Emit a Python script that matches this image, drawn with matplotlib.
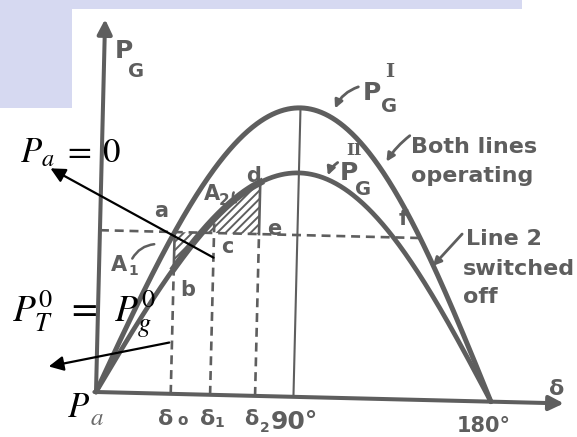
import numpy as np
import matplotlib
matplotlib.use("Agg")
import matplotlib.pyplot as plt
from matplotlib.transforms import Affine2D
from matplotlib.patches import Polygon, FancyArrowPatch

# ---- power-angle data (per unit of the both-lines peak) ----
p_max_both = 1.0        # P_G^I : both lines operating
p_max_one = 0.775       # P_G^II : line 2 switched off
p_mech = 0.56           # mechanical input P_T^0 = P_g^0
delta_1 = 52.0          # degrees
delta_2 = 72.5          # degrees
tick_labels = ["δ", "δ", "δ", "90°", "180°"]

GRAY = "#5e5e5e"
LAV = "#d6d9f1"
W, H = 577, 437
ORIGIN = (96, 392)          # pixel position of the origin
KX = 395 / 180              # pixels per degree
KY = 289                    # pixels per unit power

plt.rcParams["mathtext.fontset"] = "stix"
plt.rcParams["hatch.linewidth"] = 1.4
plt.rcParams["hatch.color"] = GRAY

fig = plt.figure(figsize=(W / 100, H / 100), dpi=100)
ax = fig.add_axes([0, 0, 1, 1])
ax.set_xlim(-ORIGIN[0] / KX, (W - ORIGIN[0]) / KX)
ax.set_ylim((ORIGIN[1] - H) / KY, ORIGIN[1] / KY)
ax.axis("off")


def at(x, y):
    """Pixel position (from top-left) -> data coordinates."""
    return ((x - ORIGIN[0]) / KX, (ORIGIN[1] - y) / KY)


# the drawing sits slightly askew on the page
tilt = ax.transData + Affine2D().rotate_deg_around(ORIGIN[0], H - ORIGIN[1], -1.4)

# ---- page background ----
bg = Polygon([at(0, 0), at(522, 0), at(522, 9), at(72, 9), at(72, 108), at(0, 108)],
             closed=True, facecolor=LAV, edgecolor="none", zorder=0)
ax.add_patch(bg)

# ---- curves ----
delta = np.linspace(0, 180, 721)
p1 = p_max_both * np.sin(np.radians(delta))
p2 = p_max_one * np.sin(np.radians(delta))
ax.plot(delta, p1, color=GRAY, lw=3.6, transform=tilt, solid_capstyle="round", zorder=3)
ax.plot(delta, p2, color=GRAY, lw=3.4, transform=tilt, solid_capstyle="round", zorder=3)

delta_0 = np.degrees(np.arcsin(p_mech / p_max_both))
delta_c = np.degrees(np.arcsin(p_mech / p_max_one))
delta_f = 180 - delta_0

seg = (delta >= delta_0) & (delta <= delta_2)
ax.plot(delta[seg], p2[seg], color=GRAY, lw=5.0, transform=tilt, zorder=3)

# accelerating / decelerating areas
m1 = (delta >= delta_0) & (delta <= delta_c)
ax.fill_between(delta[m1], p2[m1], p_mech, facecolor="none", edgecolor=GRAY,
                hatch="////", linewidth=0, transform=tilt, zorder=2)
m2 = (delta >= delta_c) & (delta <= delta_2)
ax.fill_between(delta[m2], p_mech, p2[m2], facecolor="none", edgecolor=GRAY,
                hatch="////", linewidth=0, transform=tilt, zorder=2)

# ---- axes with arrows ----
ax.add_patch(FancyArrowPatch((-2, 0), (214.5, 0), transform=tilt, arrowstyle="-|>",
                             mutation_scale=22, lw=2.9, color=GRAY, zorder=4))
ax.add_patch(FancyArrowPatch((0, -0.01), (0, 1.30), transform=tilt, arrowstyle="-|>",
                             mutation_scale=22, lw=2.9, color=GRAY, zorder=4))

# ---- construction lines ----
dash = (0, (3.4, 2.2))
pb = p_max_one * np.sin(np.radians(delta_0))
pc = p_max_one * np.sin(np.radians(delta_1))
pd = p_max_one * np.sin(np.radians(delta_2))
ax.plot([0, delta_f], [p_mech, p_mech], color=GRAY, lw=1.9, ls=dash, transform=tilt, zorder=2)
ax.plot([delta_0, delta_0], [0, pb], color=GRAY, lw=1.9, ls=dash, transform=tilt, zorder=2)
ax.plot([delta_0, delta_0], [pb, p_mech], color=GRAY, lw=1.9, transform=tilt, zorder=2)
ax.plot([delta_1, delta_1], [0, pc], color=GRAY, lw=1.9, ls=dash, transform=tilt, zorder=2)
ax.plot([delta_2, delta_2], [0, p_mech], color=GRAY, lw=1.9, ls=dash, transform=tilt, zorder=2)
ax.plot([delta_2, delta_2], [p_mech, pd], color=GRAY, lw=1.9, transform=tilt, zorder=2)
ax.plot([90, 90], [0, p_max_both], color=GRAY, lw=1.5, transform=tilt, zorder=2)

# ---- hand lettering ----
hand = dict(color=GRAY, family="DejaVu Sans", fontweight="bold", va="baseline", ha="left", zorder=5)


def put(x, y, s, size, **kw):
    d = dict(hand)
    d.update(kw)
    ax.text(*at(x, y), s, fontsize=size, **d)


put(115, 58, "P", 18)
put(128, 77, "G", 14)
put(385, 77, "I", 14, family="DejaVu Serif")
put(363, 100, "P", 18)
put(381, 112, "G", 14)
put(346, 155, "II", 12, family="DejaVu Serif")
put(340, 180, "P", 18)
put(355, 195, "G", 14)
put(411, 153, "Both lines", 16)
put(411, 182, "operating", 16)
put(466, 245, "Line 2", 16)
put(463, 275, "switched", 16)
put(463, 303, "off", 16)
put(154, 217, "a", 15)
put(180, 296, "b", 15)
put(221, 253, "c", 15)
put(246, 182, "d", 15)
put(267, 235, "e", 15)
put(399, 225, "f", 15)
put(111, 271, "A", 15)
put(128, 275, "1", 10)
put(204, 200, "A", 15)
put(219, 205, "2", 11)

# axis labels
put(158, 425, tick_labels[0], 16)
put(177, 425, "o", 11)
put(200, 425, tick_labels[1], 16)
put(214, 427, "1", 10)
put(244, 425, tick_labels[2], 15)
put(260, 432, "2", 10)
put(271, 429, tick_labels[3], 18)
put(457, 432, tick_labels[4], 15)
put(549, 395, "δ", 16)

# leaders
arrow_kw = dict(arrowstyle="-|>", color=GRAY, lw=2.0, mutation_scale=12)
ax.annotate("", xy=at(334, 111), xytext=at(361, 86),
            arrowprops=dict(connectionstyle="arc3,rad=0.25", **arrow_kw))
ax.annotate("", xy=at(327, 178), xytext=at(340, 161),
            arrowprops=dict(connectionstyle="arc3,rad=0.2", **arrow_kw))
ax.annotate("", xy=at(385, 164), xytext=at(412, 134),
            arrowprops=dict(connectionstyle="arc3,rad=0.1", **arrow_kw))
ax.annotate("", xy=at(431, 268), xytext=at(464, 232),
            arrowprops=dict(connectionstyle="arc3,rad=0.0", **arrow_kw))
ax.annotate("", xy=at(157, 244), xytext=at(131, 261),
            arrowprops=dict(arrowstyle="-", color=GRAY, lw=1.8, connectionstyle="arc3,rad=-0.3"))
ax.annotate("", xy=at(238, 204), xytext=at(235, 190),
            arrowprops=dict(arrowstyle="-", color=GRAY, lw=1.8, connectionstyle="arc3,rad=0.5"))

# ---- printed annotations ----
ink = dict(color="black", va="baseline", ha="left", zorder=6)
ax.text(*at(20, 162), r"$P_a\;=\;0$", fontsize=25, **ink)
ax.text(*at(12, 323), r"$P_T^0\;\,=\;\,P_g^0$", fontsize=27, **ink)
ax.text(*at(67, 417), r"$P$", fontsize=25, **ink)
ax.text(*at(90, 425), r"$a$", fontsize=18, color="#6a6a6a", va="baseline", ha="left", zorder=6)

ax.add_patch(FancyArrowPatch(at(216, 259), at(48, 167), arrowstyle="-|>",
                             mutation_scale=22, lw=1.6, color="black", zorder=6))
ax.add_patch(FancyArrowPatch(at(172, 342), at(46, 367), arrowstyle="-|>",
                             mutation_scale=22, lw=1.6, color="black", zorder=6))

fig.savefig("out.png", dpi=100)
